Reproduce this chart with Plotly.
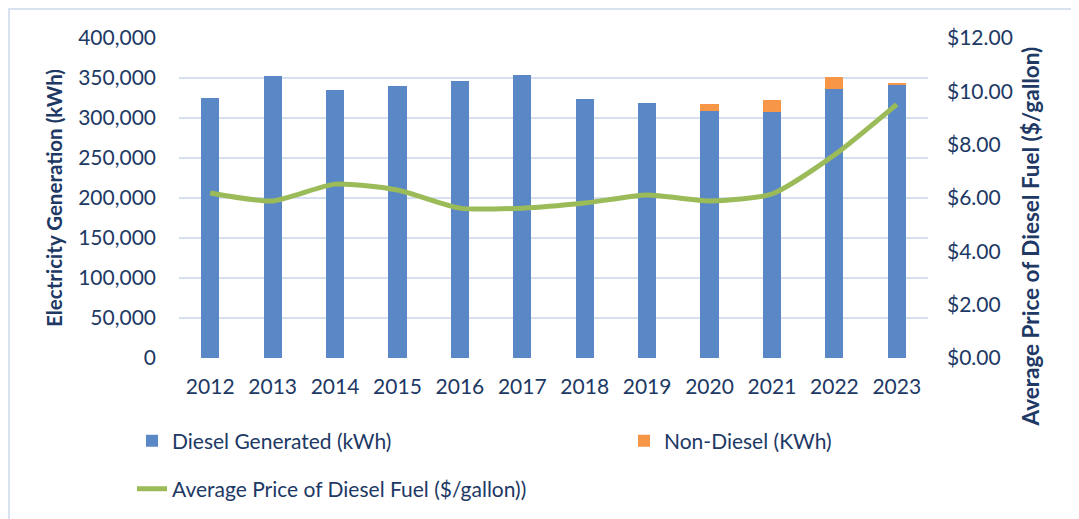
import plotly.graph_objects as go

# data
years = ["2012", "2013", "2014", "2015", "2016", "2017",
         "2018", "2019", "2020", "2021", "2022", "2023"]
diesel_kwh = [325400, 352500, 335000, 340000, 346300, 354200,
              323800, 319200, 309200, 308000, 336300, 341300]
non_diesel_kwh = [0, 0, 0, 0, 0, 0, 0, 0, 8800, 14500, 15000, 2000]
price = [6.19, 5.89, 6.52, 6.30, 5.62, 5.62, 5.81, 6.11, 5.89, 6.15, 7.61, 9.51]

left_ticks = [0, 50000, 100000, 150000, 200000, 250000, 300000, 350000, 400000]
right_ticks = [0, 2, 4, 6, 8, 10, 12]

# page body has an 8px margin, so figure coords = screen coords - 8
OFF = 8
W, H = 1079, 519
L, R, T, B = 179 - OFF, W - (928 - OFF), 38 - OFF, H - (358 - OFF)
pw, ph = W - L - R, H - T - B

def px(x):  # screen pixel -> paper x
    return (x - OFF - L) / pw

def py(y):  # screen pixel -> paper y
    return (H - B - (y - OFF)) / ph

FONT = "Lato"
TXT = "#203864"
GRID = "#D6E0F0"
FS = 21

fig = go.Figure()
fig.add_trace(go.Bar(x=years, y=diesel_kwh, name="Diesel Generated (kWh)",
                     marker=dict(color="#5A87C6", line=dict(width=0)),
                     legend="legend"))
fig.add_trace(go.Bar(x=years, y=non_diesel_kwh, name="Non-Diesel (KWh)",
                     marker=dict(color="#F79646", line=dict(width=0)),
                     legend="legend2"))
fig.add_trace(go.Scatter(x=years, y=price, yaxis="y2", mode="lines",
                         name="Average Price of Diesel Fuel ($/gallon))",
                         line=dict(color="#9BBB59", width=5, shape="spline", smoothing=0.6),
                         legend="legend3"))

leg = dict(orientation="h", yanchor="middle", xanchor="left",
           font=dict(size=FS, color=TXT), bgcolor="rgba(0,0,0,0)")

fig.update_layout(
    width=W, height=H,
    margin=dict(l=L, r=R, t=T, b=B, autoexpand=False),
    paper_bgcolor="white", plot_bgcolor="white",
    font=dict(family=FONT, size=FS, color=TXT),
    barmode="stack", bargap=0.71,
    xaxis=dict(type="category", showgrid=False, showline=False, zeroline=False,
               ticks="", ticklabelstandoff=14, tickfont=dict(size=FS, color=TXT)),
    yaxis=dict(range=[0, 400000], tickvals=left_ticks,
               ticktext=[f"{v:,}" for v in left_ticks],
               showgrid=True, gridcolor=GRID, gridwidth=2, zeroline=False,
               ticklabelstandoff=22,
               title=dict(text="<b>Electricity Generation (kWh)</b>",
                          font=dict(size=20.5, color=TXT), standoff=9)),
    yaxis2=dict(range=[0, 12], tickvals=right_ticks,
                ticktext=[f"${v:.2f}" for v in right_ticks],
                overlaying="y", side="right", showgrid=False, zeroline=False,
                ticklabelstandoff=18),
    legend=dict(leg, x=px(132), y=py(441)),
    legend2=dict(leg, x=px(624), y=py(441)),
    legend3=dict(leg, x=px(132), y=py(489)),
    showlegend=True,
)

fig.add_annotation(text="<b>Average Price of Diesel Fuel ($/gallon)</b>",
                   xref="paper", yref="paper", x=px(1045), y=py(237),
                   textangle=-90, showarrow=False,
                   font=dict(size=22.5, color=TXT))

# outer chart border
fig.add_shape(type="rect", xref="paper", yref="paper",
              x0=px(9), x1=px(1095), y0=py(540), y1=py(9),
              line=dict(color="#D9E2F1", width=2), layer="below")

fig.write_html("out.html")
